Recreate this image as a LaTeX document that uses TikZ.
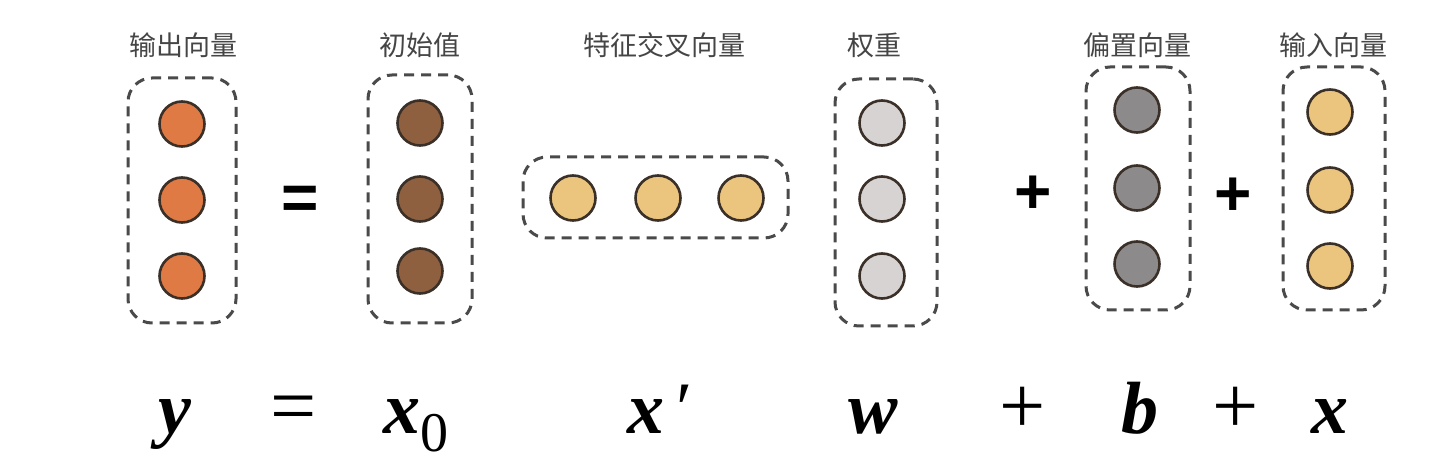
\documentclass[tikz,border=0pt]{standalone}
\usepackage{fontspec}
\newfontfamily\cjk{Noto Sans CJK SC}
\newfontfamily\timesfont{Liberation Serif}
\newfontfamily\opfont{Liberation Sans}
\usetikzlibrary{positioning}
\definecolor{corange}{HTML}{E07A45}
\definecolor{cbrown}{HTML}{8E6040}
\definecolor{cyellow}{HTML}{EBC47E}
\definecolor{clight}{HTML}{D6D3D2}
\definecolor{cdark}{HTML}{8C8A8A}
\definecolor{cborder}{HTML}{3B3028}
\definecolor{cdash}{HTML}{4A4A4A}
\definecolor{clabel}{HTML}{454545}

\begin{document}
\begin{tikzpicture}[x=1pt,y=-1pt,
    vec/.style={circle,draw=cborder,line width=2.6pt,minimum size=45pt,inner sep=0pt},
    grp/.style={draw=cdash,dash pattern=on 10pt off 7pt,line width=3pt,rounded corners=24pt,inner sep=0pt},
    lab/.style={font=\cjk\fontsize{27}{30}\selectfont,text=clabel},
    sym/.style={font=\timesfont\fontsize{74}{80}\selectfont,anchor=base},
    rel/.style={font=\timesfont\fontsize{82}{90}\selectfont,anchor=base},
    op/.style={font=\opfont\bfseries\fontsize{64}{64}\selectfont}]
        \useasboundingbox(0,0)rectangle(1438,462);
        % labels
        \node[lab](ly)at(183,45){输出向量};
        \node[lab](lxo)at(420,45){初始值};
        \node[lab](lxc)at(664,45){特征交叉向量};
        \node[lab](lw)at(874,45){权重};
        \node[lab](lb)at(1137,45){偏置向量};
        \node[lab](lx)at(1333,45){输入向量};
        % dashed groups
        \node[grp,minimum width=108pt,minimum height=245pt](gy)at(182,200.5){};
        \node[grp,minimum width=104pt,minimum height=248pt](gxo)at(420,199){};
        \node[grp,minimum width=265pt,minimum height=81pt](gxc)at(655.5,197.5){};
        \node[grp,minimum width=102pt,minimum height=247pt](gw)at(886,202.5){};
        \node[grp,minimum width=104pt,minimum height=243pt](gb)at(1138,188.5){};
        \node[grp,minimum width=102pt,minimum height=243pt](gx)at(1334,188.5){};
        % vectors
        \foreach \i/\yy in {1/124,2/200,3/276} \node[vec,fill=corange](y\i)at(182,\yy){};
        \foreach \i/\yy in {1/123,2/199,3/271} \node[vec,fill=cbrown](xo\i)at(420,\yy){};
        \foreach \i/\xx in {1/573,2/658,3/741} \node[vec,fill=cyellow](xc\i)at(\xx,198){};
        \foreach \i/\yy in {1/123,2/199,3/276} \node[vec,fill=clight](w\i)at(882,\yy){};
        \foreach \i/\yy in {1/110,2/188,3/264} \node[vec,fill=cdark](b\i)at(1137,\yy){};
        \foreach \i/\yy in {1/112,2/190,3/266} \node[vec,fill=cyellow](x\i)at(1330,\yy){};
        % operators
        \node[op](eq)at(300,203){=};
        \node[op](plusa)at(1033,195){+};
        \node[op](plusb)at(1233,197){+};
        % formula
        \node[sym](fy)at(175,433){\bfseries\itshape y};
        \node[rel](feq)at(294,433){=};
        \node[sym](fxo)at(416,433){{\bfseries\itshape x}\raisebox{-18pt}{\fontsize{56}{56}\selectfont 0}};
        \node[sym](fxc)at(660,433){{\bfseries\itshape x}\,′};
        \node[sym](fw)at(873,433){\bfseries\itshape w};
        \node[rel](fpa)at(1023,433){+};
        \node[sym](fb)at(1140,433){\bfseries\itshape b};
        \node[rel](fpb)at(1236,433){+};
        \node[sym](fx)at(1330,433){\bfseries\itshape x};
\end{tikzpicture}
\end{document}
